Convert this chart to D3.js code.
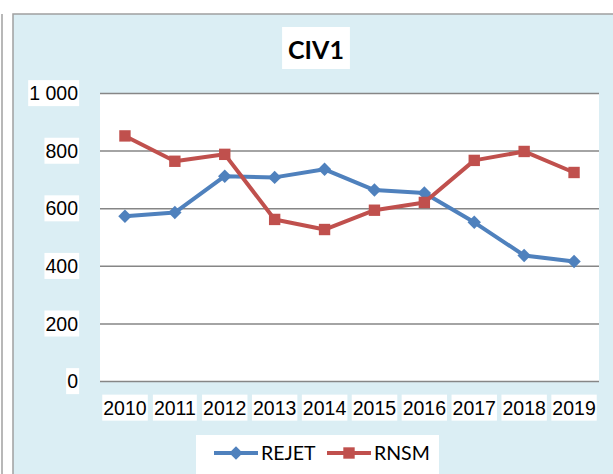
<!DOCTYPE html>
<html lang="fr">
<head>
    <meta charset="UTF-8">
    <title>CIV1</title>
    <script src="https://d3js.org/d3.v7.min.js"></script>
    <style type="text/css">
        body { margin: 0; background: #fff; }
        svg { display: block; font-family: Lato, "Open Sans", sans-serif; }
        .axis text { font-size: 19.5px; fill: #000; }
        .axis path { display: none; }
        .grid line { stroke: #868686; stroke-width: 1.5px; }
        .label-bg { fill: #fff; }
        .line { fill: none; stroke-width: 4px; stroke-linejoin: round; }
        .legend text { font-size: 19.5px; fill: #000; }
        text.title { font-size: 25px; font-weight: bold; }
    </style>
</head>
<body>
    <script type="text/javascript">
        const years = ["2010", "2011", "2012", "2013", "2014", "2015", "2016", "2017", "2018", "2019"];
        const rejet = [572, 585, 711, 707, 735, 663, 653, 551, 436, 415];
        const rnsm = [851, 763, 787, 561, 526, 593, 620, 766, 797, 724];
        const yTicks = [0, 200, 400, 600, 800, 1000];

        const width = 613;
        const height = 474;
        const plot = { left: 100, right: 599, top: 93, bottom: 381 };

        const svg = d3.select("body")
            .append("svg")
            .attr("width", width)
            .attr("height", height);

        // chart frame (and edge of the neighbouring chart)
        svg.append("line")
            .attr("x1", 2).attr("x2", 2)
            .attr("y1", 14).attr("y2", height)
            .attr("stroke", "#a0a0a0").attr("stroke-width", 1.5);

        svg.append("rect")
            .attr("x", 13).attr("y", 14)
            .attr("width", width).attr("height", height)
            .attr("fill", "#dbeef4")
            .attr("stroke", "#a0a0a0").attr("stroke-width", 1.5);

        svg.append("rect")
            .attr("x", plot.left).attr("y", plot.top)
            .attr("width", plot.right - plot.left)
            .attr("height", plot.bottom - plot.top)
            .attr("fill", "#fff");

        const xScale = d3.scaleBand()
            .domain(years)
            .range([plot.left, plot.right]);

        const yScale = d3.scaleLinear()
            .domain([0, 1000])
            .range([plot.bottom, plot.top]);

        const fmt = d3.formatLocale({ decimal: ",", thousands: " ", grouping: [3], currency: ["", "€"] }).format(",d");

        // gridlines + y labels
        const yAxis = svg.append("g")
            .attr("class", "axis grid")
            .attr("transform", `translate(${plot.left},0)`)
            .call(d3.axisLeft(yScale)
                .tickValues(yTicks)
                .tickFormat(fmt)
                .tickSize(-(plot.right - plot.left))
                .tickPadding(22));

        yAxis.selectAll("text").attr("dy", "0.34em");

        // x labels
        const xAxis = svg.append("g")
            .attr("class", "axis")
            .attr("transform", `translate(0,${plot.bottom})`)
            .call(d3.axisBottom(xScale).tickSize(0));

        xAxis.selectAll("text")
            .attr("y", 27)
            .attr("dy", "0.34em");

        // white boxes behind every label
        function addBackground(sel) {
            sel.each(function () {
                const b = this.getBBox();
                d3.select(this.parentNode)
                    .insert("rect", "text")
                    .attr("class", "label-bg")
                    .attr("x", b.x - 1)
                    .attr("y", b.y - 2)
                    .attr("width", b.width + 2)
                    .attr("height", b.height + 4);
            });
        }
        addBackground(yAxis.selectAll("text"));
        addBackground(xAxis.selectAll("text"));

        const series = [
            { name: "REJET", values: rejet, color: "#4f81bd", symbol: d3.symbolDiamond2, size: 115 },
            { name: "RNSM", values: rnsm, color: "#c0504d", symbol: d3.symbolSquare2, size: 165 }
        ];

        const cx = (d, i) => xScale(years[i]) + xScale.bandwidth() / 2;

        const line = d3.line()
            .x(cx)
            .y(d => yScale(d));

        series.forEach(s => {
            svg.append("path")
                .datum(s.values)
                .attr("class", "line")
                .attr("stroke", s.color)
                .attr("d", line);

            svg.append("g")
                .selectAll("path")
                .data(s.values)
                .join("path")
                .attr("transform", (d, i) => `translate(${cx(d, i)},${yScale(d)})`)
                .attr("d", d3.symbol().type(s.symbol).size(s.size))
                .attr("fill", s.color);
        });

        // title
        const title = svg.append("g");
        title.append("text")
            .attr("class", "title")
            .attr("x", 316)
            .attr("y", 59)
            .attr("text-anchor", "middle")
            .text("CIV1");
        title.select("text").each(function () {
            const b = this.getBBox();
            title.insert("rect", "text")
                .attr("fill", "#fff")
                .attr("x", b.x - 6).attr("y", 27)
                .attr("width", b.width + 12).attr("height", 42);
        });

        // legend
        const legend = svg.append("g").attr("class", "legend");
        legend.append("rect")
            .attr("x", 196).attr("y", 435)
            .attr("width", 243).attr("height", 40)
            .attr("fill", "#fff");

        const legendX = [214, 327];
        series.forEach((s, i) => {
            const g = legend.append("g")
                .attr("transform", `translate(${legendX[i]},453)`);
            g.append("line")
                .attr("x1", 0).attr("x2", 44)
                .attr("stroke", s.color)
                .attr("stroke-width", 4);
            g.append("path")
                .attr("transform", "translate(22,0)")
                .attr("d", d3.symbol().type(s.symbol).size(s.size))
                .attr("fill", s.color);
            g.append("text")
                .attr("x", 47)
                .attr("dy", "0.35em")
                .text(s.name);
        });
    </script>
</body>
</html>
